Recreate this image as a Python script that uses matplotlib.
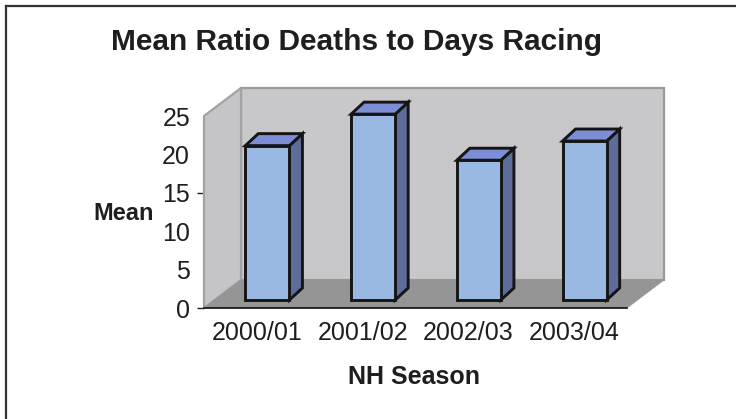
import matplotlib
matplotlib.use("Agg")
import matplotlib.pyplot as plt
from matplotlib.patches import Polygon
from matplotlib.lines import Line2D
from matplotlib.transforms import IdentityTransform

plt.rcParams['font.family'] = ['Liberation Sans', 'DejaVu Sans']

categories = ["2000/01", "2001/02", "2002/03", "2003/04"]
means = [20.1, 24.2, 18.2, 20.7]
yticks = [0, 5, 10, 15, 20, 25]

W, H = 736, 419
fig = plt.figure(figsize=(W / 100, H / 100), dpi=100)
fig.patch.set_facecolor('white')

# front plane of the 3D box in pixels (from top)
x0, x1, ytop, ybot = 204, 627, 116, 308
ax = fig.add_axes([x0 / W, 1 - ybot / H, (x1 - x0) / W, (ybot - ytop) / H])
ax.set_xlim(-0.5, len(categories) - 0.5)
ax.set_ylim(0, 25)
ax.patch.set_visible(False)
for s in ax.spines.values():
    s.set_visible(False)

txtc = '#1e1e1e'
ax.set_yticks(yticks)
ax.set_yticklabels([str(t) for t in yticks])
ax.tick_params(axis='y', length=5, width=1, color=txtc, pad=5, labelsize=18, labelcolor=txtc)
for t in ax.yaxis.get_major_ticks():
    if t.get_loc() not in (0, 15):
        t.tick1line.set_visible(False)
ax.set_xticks(range(len(categories)))
ax.set_xticklabels(categories)
ax.tick_params(axis='x', length=0, pad=9, labelsize=18, labelcolor=txtc)

D = (37.0, 28.0)          # full depth offset (pixels, y up)
BF = (10.5, 8.0)          # bar front depth
BB = (23.5, 20.0)         # bar back depth


def P(x, y, off=(0.0, 0.0)):
    px, py = ax.transData.transform((x, y))
    return (px + off[0], py + off[1])


def poly(pts, fc, ec, lw, z):
    p = Polygon(pts, closed=True, facecolor=fc, edgecolor=ec, linewidth=lw,
                transform=IdentityTransform(), zorder=z, joinstyle='miter')
    fig.add_artist(p)


xa, xb = -0.5, len(categories) - 0.5
# back wall
poly([P(xa, 0, D), P(xb, 0, D), P(xb, 25, D), P(xa, 25, D)], '#c8c8ca', '#9a9a9c', 1.6, 1)
# left wall
poly([P(xa, 0), P(xa, 25), P(xa, 25, D), P(xa, 0, D)], '#c5c5c7', '#a2a2a4', 1.6, 1.1)
# floor
poly([P(xa, 0), P(xb, 0), P(xb, 0, D), P(xa, 0, D)], '#959596', '#959596', 0.5, 1.2)
# front axis line
l1, l2 = P(xa, 0), P(xb, 0)
fig.add_artist(Line2D([l1[0], l2[0]], [l1[1], l2[1]], color='#111111', lw=1.2,
                      transform=IdentityTransform(), zorder=1.3))

bw = 0.417
for i, v in enumerate(means):
    a, b = i - bw / 2, i + bw / 2
    z = 2 + i * 0.1
    # side face
    poly([P(b, 0, BF), P(b, 0, BB), P(b, v, BB), P(b, v, BF)], '#5d6c99', '#151515', 2.1, z)
    # top face
    poly([P(a, v, BF), P(b, v, BF), P(b, v, BB), P(a, v, BB)], '#7c8ed6', '#151515', 2.1, z)
    # front face
    poly([P(a, 0, BF), P(b, 0, BF), P(b, v, BF), P(a, v, BF)], '#9ab9e2', '#151515', 2.1, z + 0.01)

# titles
fig.text(356.5 / W, 1 - 50 / H, "Mean Ratio Deaths to Days Racing", ha='center', va='baseline',
         fontsize=21.5, fontweight='bold', color=txtc)
fig.text(124 / W, 1 - 213 / H, "Mean", ha='center', va='center', fontsize=17,
         fontweight='bold', color=txtc)
fig.text(414 / W, 1 - 377 / H, "NH Season", ha='center', va='center', fontsize=18,
         fontweight='bold', color=txtc)

# chart frame (left and top edges)
fig.add_artist(Line2D([6.5 / W, 6.5 / W], [0, 1 - 6.5 / H], color='#333333', lw=1.6,
                      transform=fig.transFigure))
fig.add_artist(Line2D([6.5 / W, 1], [1 - 6.5 / H, 1 - 6.5 / H], color='#333333', lw=1.6,
                      transform=fig.transFigure))

fig.savefig("out.png", dpi=100)
